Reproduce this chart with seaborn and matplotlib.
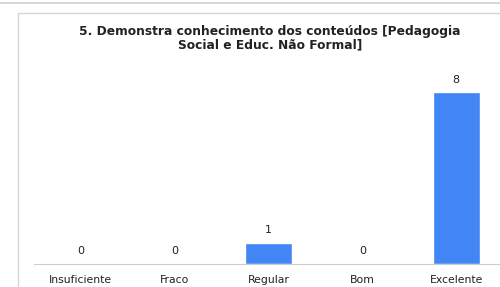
import matplotlib
matplotlib.use("Agg")
import matplotlib.pyplot as plt
import seaborn as sns
import pandas as pd
import numpy as np
from matplotlib.patches import Rectangle
from matplotlib.lines import Line2D

# chart data
categorias = ["Insuficiente", "Fraco", "Regular", "Bom", "Excelente"]
respostas = [0, 0, 1, 0, 8]
titulo = "5. Demonstra conhecimento dos conteúdos [Pedagogia\nSocial e Educ. Não Formal]"

df = pd.DataFrame({"categoria": categorias, "respostas": respostas})

sns.set_style("white")
plt.rcParams['font.family'] = ['DejaVu Sans']

fig = plt.figure(figsize=(5.0, 2.87), dpi=100)

# panel frames (previous card bottom edge + this card border)
fig.add_artist(Line2D([0, 1], [1 - 3 / 287, 1 - 3 / 287], color="#d0d0d0", lw=1.2))
fig.add_artist(Rectangle((18 / 500, -0.05), 1.0, 1 - 13 / 287 + 0.05, fill=False,
                         edgecolor="#d6d6d6", lw=1.0))

ax = fig.add_axes([34 / 500, 23 / 287, 469 / 500, 205 / 287])
sns.barplot(data=df, x="categoria", y="respostas", color="#4285f4", width=0.5,
            saturation=1, ax=ax)

ax.set_xlim(-0.5, 4.5)
ax.set_ylim(0, 9.55)
for i, v in enumerate(respostas):
    ax.text(i, v + 0.36, str(v), ha="center", va="bottom", fontsize=8, color="#222222")

ax.set_xlabel("")
ax.set_ylabel("")
ax.set_yticks([])
ax.tick_params(axis="x", which="major", length=0, labelsize=7.8, labelcolor="#222222", pad=8)
ax.set_xticks(np.arange(-0.5, 5.0, 1.0), minor=True)
ax.tick_params(axis="x", which="minor", length=3, color="#c8c8c8", width=0.8)
for s in ["top", "right", "left"]:
    ax.spines[s].set_visible(False)
ax.spines["bottom"].set_color("#cccccc")
ax.spines["bottom"].set_linewidth(0.8)

fig.text(270 / 500, 1 - 25 / 287, titulo, ha="center", va="top", fontsize=8.8,
         fontweight="bold", color="#222222", linespacing=1.05)

fig.savefig("out.png", dpi=100)
